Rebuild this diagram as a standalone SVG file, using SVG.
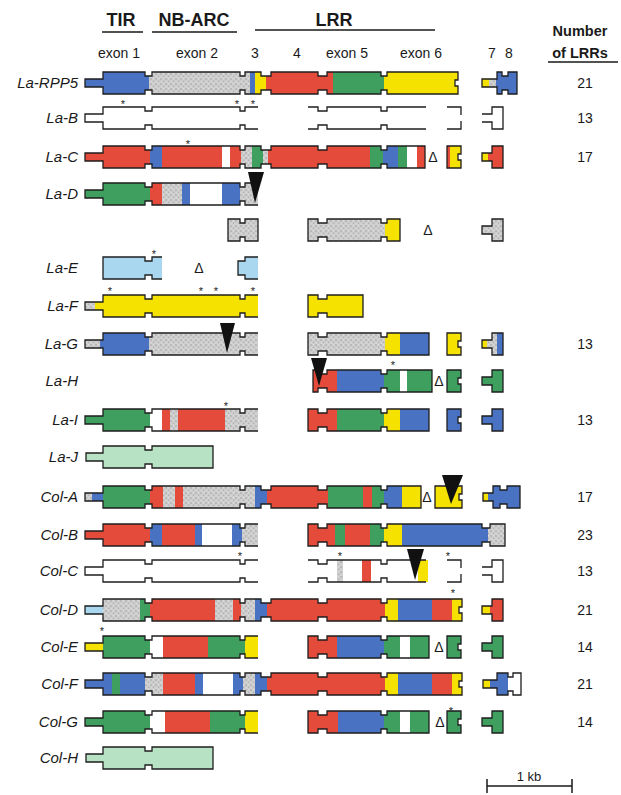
<svg xmlns="http://www.w3.org/2000/svg" width="621" height="795" viewBox="0 0 621 795">
<style>
.o{fill:none;stroke:#1e1e1e;stroke-width:1.3}
text{font-family:"Liberation Sans",Arial,sans-serif;fill:#1a1a1a}
.lb{font-style:italic;font-size:15px;text-anchor:end}
.h{font-size:14px;text-anchor:middle}
.hb{font-size:18px;font-weight:bold;text-anchor:middle}
.nb{font-size:14.5px;font-weight:bold;text-anchor:middle}
.n{font-size:14px;text-anchor:middle}
.a{font-size:11px;text-anchor:middle}
.d{font-size:14px;text-anchor:middle}
.B{fill:#4a72c2}.R{fill:#e44b3b}.G{fill:#3f9f5f}.Y{fill:#f6e200}.S{fill:url(#stip)}.LB{fill:#a9d7ef}.LG{fill:#b8e2c4}.W{fill:#fff}
.tri{fill:#111}
.ln{stroke:#1a1a1a;stroke-width:1.5;fill:none}
</style>
<defs>
<pattern id="stip" width="5" height="5" patternUnits="userSpaceOnUse"><rect width="5" height="5" fill="#cdcdcd"/><circle cx="1" cy="1" r=".7" fill="#9a9a9a"/><circle cx="3.6" cy="3.2" r=".6" fill="#a8a8a8"/><circle cx="3.5" cy=".8" r=".5" fill="#ececec"/><circle cx="1.2" cy="4" r=".5" fill="#ececec"/></pattern>
<path id="pLo" d="M258,-11H245V-7H240V-11H152V-7H145V-11H103V-4H85V4H103V11H145V7H152V11H240V7H245V11H258"/>
<path id="pR" d="M308,-11H318V-7H327V-11H381V-7H387V-11H429V11H387V7H381V11H327V7H318V11H308Z"/>
<path id="pRo" d="M308,-11H318V-7H327V-11H381V-7H387V-11H426M426,11H387V7H381V11H327V7H318V11H308"/>
<path id="pT" d="M447,-11H461V-3H458V3H461V11H447Z"/>
<path id="pTo" d="M447,-11H461V-3M461,3V11H447"/>
<path id="pE" d="M482,-4H492V-11H503V11H492V4H482Z"/>
<path id="pEo" d="M482,-4H492V-11H503V11H492V4H482"/>
<path id="pRPP" d="M85,-4H103V-11H145V-7H152V-11H240V-7H245V-11H261V-7H271V-11H318V-7H327V-11H381V-7H387V-11H458V-3H455V3H458V11H387V7H381V11H327V7H318V11H271V7H261V11H245V7H240V11H152V7H145V11H103V4H85Z"/>
<path id="pC" d="M85,-4H103V-11H145V-7H152V-11H240V-7H245V-11H261V-7H271V-11H318V-7H327V-11H381V-7H387V-11H425V11H387V7H381V11H327V7H318V11H271V7H261V11H245V7H240V11H152V7H145V11H103V4H85Z"/>
<path id="pA" d="M85,-4H103V-11H145V-7H152V-11H240V-7H245V-11H261V-7H271V-11H318V-7H327V-11H381V-7H387V-11H421V11H387V7H381V11H327V7H318V11H271V7H261V11H245V7H240V11H152V7H145V11H103V4H85Z"/>
<path id="pDF" d="M85,-4H103V-11H145V-7H152V-11H240V-7H245V-11H261V-7H271V-11H318V-7H327V-11H381V-7H387V-11H462V-3H459V3H462V11H387V7H381V11H327V7H318V11H271V7H261V11H245V7H240V11H152V7H145V11H103V4H85Z"/>
<path id="pB2" d="M308,-11H318V-7H327V-11H381V-7H387V-11H482V-7H490V-11H505V11H490V7H482V11H387V7H381V11H327V7H318V11H308Z"/>
<path id="pU1" d="M228,-11H240V-7H245V-11H258V11H245V7H240V11H228Z"/>
<path id="pU2" d="M308,-11H318V-7H327V-11H381V-7H387V-11H400V11H387V7H381V11H327V7H318V11H308Z"/>
<path id="pE1" d="M162,-11H152V-7H145V-11H103V11H145V7H152V11H162"/>
<path id="pE2" d="M258,-11H245V-7H238V7H245V11H258"/>
<path id="pF2" d="M308,-11H318V-7H327V-11H363V11H327V7H318V11H308Z"/>
<path id="pH" d="M313,-11H318V-7H327V-11H381V-7H387V-11H432V11H387V7H381V11H327V7H318V11H313Z"/>
<path id="pJ" d="M86,-4H103V-11H145V-7H152V-11H213V11H152V7H145V11H103V4H86Z"/>
<path id="pTA" d="M435,-11H462V-3H459V3H462V11H435Z"/>
<path id="pEA" d="M483,-4H493V-11H500V-7H507V-11H520V11H507V7H500V11H493V4H483Z"/>
<path id="pER" d="M482,-4H497V-11H502V-7H508V-11H517V11H508V7H502V11H497V4H482Z"/>
<path id="pEF" d="M483,-4H497V-11H508V-7H513V-11H521V11H513V7H508V11H497V4H483Z"/>
<clipPath id="cLo"><use href="#pLo"/></clipPath>
<clipPath id="cR"><use href="#pR"/></clipPath>
<clipPath id="cT"><use href="#pT"/></clipPath>
<clipPath id="cE"><use href="#pE"/></clipPath>
<clipPath id="cRPP"><use href="#pRPP"/></clipPath>
<clipPath id="cC"><use href="#pC"/></clipPath>
<clipPath id="cA"><use href="#pA"/></clipPath>
<clipPath id="cDF"><use href="#pDF"/></clipPath>
<clipPath id="cB2"><use href="#pB2"/></clipPath>
<clipPath id="cU1"><use href="#pU1"/></clipPath>
<clipPath id="cU2"><use href="#pU2"/></clipPath>
<clipPath id="cE1"><use href="#pE1"/></clipPath>
<clipPath id="cE2"><use href="#pE2"/></clipPath>
<clipPath id="cF2"><use href="#pF2"/></clipPath>
<clipPath id="cH"><use href="#pH"/></clipPath>
<clipPath id="cTA"><use href="#pTA"/></clipPath>
<clipPath id="cEA"><use href="#pEA"/></clipPath>
<clipPath id="cER"><use href="#pER"/></clipPath>
<clipPath id="cEF"><use href="#pEF"/></clipPath>
</defs>
<rect width="621" height="795" fill="#fff"/>

<g id="header">
<text class="hb" x="121" y="26">TIR</text>
<text class="hb" x="194" y="26">NB-ARC</text>
<text class="hb" x="334" y="26">LRR</text>
<path class="ln" d="M102,32H143M152,32H237M255,30H435M548,62H618"/>
<text class="h" x="119" y="58">exon 1</text>
<text class="h" x="197" y="58">exon 2</text>
<text class="h" x="255" y="58">3</text>
<text class="h" x="297" y="58">4</text>
<text class="h" x="347" y="58">exon 5</text>
<text class="h" x="421" y="58">exon 6</text>
<text class="h" x="492" y="58">7</text>
<text class="h" x="509" y="58">8</text>
<text class="nb" x="580" y="36">Number</text>
<text class="nb" x="580" y="58">of LRRs</text>
</g>

<g id="la-rpp5" transform="translate(0,83)">
<g clip-path="url(#cRPP)"><rect class="B" x="84" y="-12" width="65" height="24"/><rect class="S" x="149" y="-12" width="101" height="24"/><rect class="B" x="250" y="-12" width="5" height="24"/><rect class="Y" x="255" y="-12" width="11" height="24"/><rect class="R" x="266" y="-12" width="67" height="24"/><rect class="G" x="333" y="-12" width="51" height="24"/><rect class="Y" x="384" y="-12" width="76" height="24"/></g>
<use href="#pRPP" class="o"/>
<g clip-path="url(#cER)"><rect class="Y" x="481" y="-12" width="8" height="24"/><rect class="S" x="489" y="-12" width="7" height="24"/><rect class="B" x="496" y="-12" width="23" height="24"/></g>
<use href="#pER" class="o"/>
<text class="lb" x="78" y="5">La-RPP5</text>
<text class="n" x="585" y="5">21</text>
</g>

<g id="la-b" transform="translate(0,118)">
<use href="#pLo" class="o"/>
<use href="#pRo" class="o"/>
<use href="#pTo" class="o"/>
<use href="#pEo" class="o"/>
<text class="a" x="123" y="-10">*</text><text class="a" x="237" y="-10">*</text><text class="a" x="253" y="-10">*</text>
<text class="lb" x="78" y="5">La-B</text>
<text class="n" x="585" y="5">13</text>
</g>

<g id="la-c" transform="translate(0,157)">
<g clip-path="url(#cC)"><rect class="R" x="84" y="-12" width="66" height="24"/><rect class="B" x="150" y="-12" width="12" height="24"/><rect class="R" x="162" y="-12" width="60" height="24"/><rect class="W" x="222" y="-12" width="8" height="24"/><rect class="R" x="230" y="-12" width="11" height="24"/><rect class="S" x="241" y="-12" width="11" height="24"/><rect class="G" x="252" y="-12" width="11" height="24"/><rect class="S" x="263" y="-12" width="5" height="24"/><rect class="R" x="268" y="-12" width="102" height="24"/><rect class="G" x="370" y="-12" width="13" height="24"/><rect class="B" x="383" y="-12" width="15" height="24"/><rect class="G" x="398" y="-12" width="9" height="24"/><rect class="W" x="407" y="-12" width="10" height="24"/><rect class="R" x="417" y="-12" width="9" height="24"/></g>
<use href="#pC" class="o"/>
<g clip-path="url(#cT)"><rect class="R" x="446" y="-12" width="4" height="24"/><rect class="Y" x="450" y="-12" width="12" height="24"/></g>
<use href="#pT" class="o"/>
<g clip-path="url(#cE)"><rect class="Y" x="481" y="-12" width="7" height="24"/><rect class="R" x="488" y="-12" width="16" height="24"/></g>
<use href="#pE" class="o"/>
<text class="a" x="188" y="-9">*</text>
<text class="d" x="433" y="5">Δ</text>
<text class="lb" x="78" y="5">La-C</text>
<text class="n" x="585" y="5">17</text>
</g>

<g id="la-d" transform="translate(0,194)">
<g clip-path="url(#cLo)"><rect class="G" x="84" y="-12" width="66" height="24"/><rect class="R" x="150" y="-12" width="12" height="24"/><rect class="S" x="162" y="-12" width="20" height="24"/><rect class="B" x="182" y="-12" width="8" height="24"/><rect class="W" x="190" y="-12" width="32" height="24"/><rect class="B" x="222" y="-12" width="18" height="24"/><rect class="S" x="240" y="-12" width="19" height="24"/></g>
<use href="#pLo" class="o"/>
<polygon class="tri" points="248,-22 264,-22 255,9"/>
<text class="lb" x="78" y="5">La-D</text>
</g>

<g id="fragment" transform="translate(0,230)">
<g clip-path="url(#cU1)"><rect class="S" x="227" y="-12" width="32" height="24"/></g>
<use href="#pU1" class="o"/>
<g clip-path="url(#cU2)"><rect class="S" x="307" y="-12" width="78" height="24"/><rect class="Y" x="385" y="-12" width="16" height="24"/></g>
<use href="#pU2" class="o"/>
<g clip-path="url(#cE)"><rect class="S" x="481" y="-12" width="23" height="24"/></g>
<use href="#pE" class="o"/>
<text class="d" x="428" y="5">Δ</text>
</g>

<g id="la-e" transform="translate(0,268)">
<g clip-path="url(#cE1)"><rect class="LB" x="102" y="-12" width="61" height="24"/></g>
<use href="#pE1" class="o"/>
<g clip-path="url(#cE2)"><rect class="LB" x="237" y="-12" width="22" height="24"/></g>
<use href="#pE2" class="o"/>
<text class="a" x="154" y="-10">*</text>
<text class="d" x="199" y="5">Δ</text>
<text class="lb" x="78" y="5">La-E</text>
</g>

<g id="la-f" transform="translate(0,306)">
<g clip-path="url(#cLo)"><rect class="S" x="84" y="-12" width="11" height="24"/><rect class="Y" x="95" y="-12" width="164" height="24"/></g>
<use href="#pLo" class="o"/>
<g clip-path="url(#cF2)"><rect class="Y" x="307" y="-12" width="57" height="24"/></g>
<use href="#pF2" class="o"/>
<text class="a" x="110" y="-11">*</text><text class="a" x="201" y="-11">*</text><text class="a" x="216" y="-11">*</text><text class="a" x="253" y="-11">*</text>
<text class="lb" x="78" y="5">La-F</text>
</g>

<g id="la-g" transform="translate(0,344)">
<g clip-path="url(#cLo)"><rect class="S" x="84" y="-12" width="16" height="24"/><rect class="B" x="100" y="-12" width="49" height="24"/><rect class="S" x="149" y="-12" width="110" height="24"/></g>
<use href="#pLo" class="o"/>
<polygon class="tri" points="220,-21 235,-21 227,9"/>
<g clip-path="url(#cR)"><rect class="S" x="307" y="-12" width="78" height="24"/><rect class="Y" x="385" y="-12" width="15" height="24"/><rect class="B" x="400" y="-12" width="30" height="24"/></g>
<use href="#pR" class="o"/>
<g clip-path="url(#cT)"><rect class="Y" x="446" y="-12" width="16" height="24"/></g>
<use href="#pT" class="o"/>
<g clip-path="url(#cE)"><rect class="Y" x="481" y="-12" width="6" height="24"/><rect class="S" x="487" y="-12" width="10" height="24"/><rect class="B" x="497" y="-12" width="7" height="24"/></g>
<use href="#pE" class="o"/>
<text class="lb" x="78" y="5">La-G</text>
<text class="n" x="585" y="5">13</text>
</g>

<g id="la-h" transform="translate(0,381)">
<g clip-path="url(#cH)"><rect class="R" x="312" y="-12" width="25" height="24"/><rect class="B" x="337" y="-12" width="47" height="24"/><rect class="G" x="384" y="-12" width="16" height="24"/><rect class="W" x="400" y="-12" width="7" height="24"/><rect class="G" x="407" y="-12" width="26" height="24"/></g>
<use href="#pH" class="o"/>
<polygon class="tri" points="311,-23 327,-23 319,5"/>
<g clip-path="url(#cT)"><rect class="G" x="446" y="-12" width="16" height="24"/></g>
<use href="#pT" class="o"/>
<g clip-path="url(#cE)"><rect class="G" x="481" y="-12" width="23" height="24"/></g>
<use href="#pE" class="o"/>
<text class="a" x="393" y="-12">*</text>
<text class="d" x="439" y="5">Δ</text>
<text class="lb" x="78" y="5">La-H</text>
</g>

<g id="la-i" transform="translate(0,420)">
<g clip-path="url(#cLo)"><rect class="G" x="84" y="-12" width="66" height="24"/><rect class="W" x="150" y="-12" width="12" height="24"/><rect class="R" x="162" y="-12" width="8" height="24"/><rect class="S" x="170" y="-12" width="8" height="24"/><rect class="R" x="178" y="-12" width="47" height="24"/><rect class="S" x="225" y="-12" width="34" height="24"/></g>
<use href="#pLo" class="o"/>
<g clip-path="url(#cR)"><rect class="R" x="307" y="-12" width="30" height="24"/><rect class="G" x="337" y="-12" width="47" height="24"/><rect class="Y" x="384" y="-12" width="16" height="24"/><rect class="B" x="400" y="-12" width="30" height="24"/></g>
<use href="#pR" class="o"/>
<g clip-path="url(#cT)"><rect class="B" x="446" y="-12" width="16" height="24"/></g>
<use href="#pT" class="o"/>
<g clip-path="url(#cE)"><rect class="B" x="481" y="-12" width="23" height="24"/></g>
<use href="#pE" class="o"/>
<text class="a" x="226" y="-10">*</text>
<text class="lb" x="78" y="5">La-I</text>
<text class="n" x="585" y="5">13</text>
</g>

<g id="la-j" transform="translate(0,457)">
<use href="#pJ" class="o" style="fill:#b8e2c4"/>
<text class="lb" x="78" y="5">La-J</text>
</g>

<g id="col-a" transform="translate(0,497)">
<g clip-path="url(#cA)"><rect class="S" x="84" y="-12" width="8" height="24"/><rect class="B" x="92" y="-12" width="11" height="24"/><rect class="G" x="103" y="-12" width="47" height="24"/><rect class="R" x="150" y="-12" width="13" height="24"/><rect class="S" x="163" y="-12" width="12" height="24"/><rect class="R" x="175" y="-12" width="8" height="24"/><rect class="S" x="183" y="-12" width="72" height="24"/><rect class="B" x="255" y="-12" width="12" height="24"/><rect class="R" x="267" y="-12" width="61" height="24"/><rect class="G" x="328" y="-12" width="35" height="24"/><rect class="R" x="363" y="-12" width="9" height="24"/><rect class="G" x="372" y="-12" width="12" height="24"/><rect class="B" x="384" y="-12" width="18" height="24"/><rect class="Y" x="402" y="-12" width="19" height="24"/></g>
<use href="#pA" class="o"/>
<g clip-path="url(#cTA)"><rect class="Y" x="434" y="-12" width="29" height="24"/></g>
<use href="#pTA" class="o"/>
<polygon class="tri" points="442,-22 463,-22 451,7"/>
<g clip-path="url(#cEA)"><rect class="Y" x="482" y="-12" width="6" height="24"/><rect class="B" x="488" y="-12" width="33" height="24"/></g>
<use href="#pEA" class="o"/>
<text class="d" x="427" y="5">Δ</text>
<text class="lb" x="78" y="5">Col-A</text>
<text class="n" x="585" y="5">17</text>
</g>

<g id="col-b" transform="translate(0,535)">
<g clip-path="url(#cLo)"><rect class="R" x="84" y="-12" width="66" height="24"/><rect class="B" x="150" y="-12" width="12" height="24"/><rect class="R" x="162" y="-12" width="33" height="24"/><rect class="B" x="195" y="-12" width="7" height="24"/><rect class="W" x="202" y="-12" width="30" height="24"/><rect class="B" x="232" y="-12" width="10" height="24"/><rect class="S" x="242" y="-12" width="17" height="24"/></g>
<use href="#pLo" class="o"/>
<g clip-path="url(#cB2)"><rect class="R" x="307" y="-12" width="28" height="24"/><rect class="G" x="335" y="-12" width="10" height="24"/><rect class="R" x="345" y="-12" width="25" height="24"/><rect class="G" x="370" y="-12" width="14" height="24"/><rect class="Y" x="384" y="-12" width="18" height="24"/><rect class="B" x="402" y="-12" width="86" height="24"/><rect class="S" x="488" y="-12" width="18" height="24"/></g>
<use href="#pB2" class="o"/>
<text class="lb" x="78" y="5">Col-B</text>
<text class="n" x="585" y="5">23</text>
</g>

<g id="col-c" transform="translate(0,571)">
<use href="#pLo" class="o"/>
<g clip-path="url(#cR)"><rect class="S" x="337" y="-12" width="6" height="24"/><rect class="R" x="362" y="-12" width="9" height="24"/><rect class="Y" x="418" y="-12" width="10" height="24"/></g>
<use href="#pRo" class="o"/>
<polygon class="tri" points="407,-22 424,-22 415,9"/>
<use href="#pTo" class="o"/>
<use href="#pEo" class="o"/>
<text class="a" x="240" y="-11">*</text><text class="a" x="340" y="-11">*</text><text class="a" x="448" y="-11">*</text>
<text class="lb" x="78" y="5">Col-C</text>
<text class="n" x="585" y="5">13</text>
</g>

<g id="col-d" transform="translate(0,610)">
<g clip-path="url(#cDF)"><rect class="LB" x="84" y="-12" width="19" height="24"/><rect class="S" x="103" y="-12" width="37" height="24"/><rect class="G" x="140" y="-12" width="10" height="24"/><rect class="R" x="150" y="-12" width="65" height="24"/><rect class="S" x="215" y="-12" width="18" height="24"/><rect class="R" x="233" y="-12" width="8" height="24"/><rect class="S" x="241" y="-12" width="14" height="24"/><rect class="B" x="255" y="-12" width="12" height="24"/><rect class="R" x="267" y="-12" width="118" height="24"/><rect class="Y" x="385" y="-12" width="13" height="24"/><rect class="B" x="398" y="-12" width="34" height="24"/><rect class="R" x="432" y="-12" width="20" height="24"/><rect class="Y" x="452" y="-12" width="11" height="24"/></g>
<use href="#pDF" class="o"/>
<g clip-path="url(#cE)"><rect class="Y" x="481" y="-12" width="9" height="24"/><rect class="R" x="490" y="-12" width="14" height="24"/></g>
<use href="#pE" class="o"/>
<text class="a" x="453" y="-13">*</text>
<text class="lb" x="78" y="5">Col-D</text>
<text class="n" x="585" y="5">21</text>
</g>

<g id="col-e" transform="translate(0,647)">
<g clip-path="url(#cLo)"><rect class="Y" x="84" y="-12" width="19" height="24"/><rect class="G" x="103" y="-12" width="47" height="24"/><rect class="W" x="150" y="-12" width="13" height="24"/><rect class="R" x="163" y="-12" width="45" height="24"/><rect class="G" x="208" y="-12" width="37" height="24"/><rect class="Y" x="245" y="-12" width="14" height="24"/></g>
<use href="#pLo" class="o"/>
<g clip-path="url(#cR)"><rect class="R" x="307" y="-12" width="30" height="24"/><rect class="B" x="337" y="-12" width="47" height="24"/><rect class="G" x="384" y="-12" width="16" height="24"/><rect class="W" x="400" y="-12" width="10" height="24"/><rect class="G" x="410" y="-12" width="20" height="24"/></g>
<use href="#pR" class="o"/>
<g clip-path="url(#cT)"><rect class="G" x="446" y="-12" width="16" height="24"/></g>
<use href="#pT" class="o"/>
<g clip-path="url(#cE)"><rect class="G" x="481" y="-12" width="23" height="24"/></g>
<use href="#pE" class="o"/>
<text class="a" x="102" y="-12">*</text>
<text class="d" x="439" y="5">Δ</text>
<text class="lb" x="78" y="5">Col-E</text>
<text class="n" x="585" y="5">14</text>
</g>

<g id="col-f" transform="translate(0,684)">
<g clip-path="url(#cDF)"><rect class="B" x="84" y="-12" width="28" height="24"/><rect class="G" x="112" y="-12" width="8" height="24"/><rect class="B" x="120" y="-12" width="25" height="24"/><rect class="S" x="145" y="-12" width="18" height="24"/><rect class="R" x="163" y="-12" width="32" height="24"/><rect class="B" x="195" y="-12" width="8" height="24"/><rect class="W" x="203" y="-12" width="30" height="24"/><rect class="B" x="233" y="-12" width="10" height="24"/><rect class="S" x="243" y="-12" width="12" height="24"/><rect class="B" x="255" y="-12" width="12" height="24"/><rect class="R" x="267" y="-12" width="118" height="24"/><rect class="Y" x="385" y="-12" width="13" height="24"/><rect class="B" x="398" y="-12" width="34" height="24"/><rect class="R" x="432" y="-12" width="20" height="24"/><rect class="Y" x="452" y="-12" width="11" height="24"/></g>
<use href="#pDF" class="o"/>
<g clip-path="url(#cEF)"><rect class="Y" x="482" y="-12" width="8" height="24"/><rect class="B" x="490" y="-12" width="18" height="24"/><rect class="W" x="508" y="-12" width="14" height="24"/></g>
<use href="#pEF" class="o"/>
<text class="lb" x="78" y="5">Col-F</text>
<text class="n" x="585" y="5">21</text>
</g>

<g id="col-g" transform="translate(0,722)">
<g clip-path="url(#cLo)"><rect class="G" x="84" y="-12" width="66" height="24"/><rect class="W" x="150" y="-12" width="15" height="24"/><rect class="R" x="165" y="-12" width="45" height="24"/><rect class="G" x="210" y="-12" width="35" height="24"/><rect class="Y" x="245" y="-12" width="14" height="24"/></g>
<use href="#pLo" class="o"/>
<g clip-path="url(#cR)"><rect class="R" x="307" y="-12" width="31" height="24"/><rect class="B" x="338" y="-12" width="46" height="24"/><rect class="G" x="384" y="-12" width="16" height="24"/><rect class="W" x="400" y="-12" width="10" height="24"/><rect class="G" x="410" y="-12" width="20" height="24"/></g>
<use href="#pR" class="o"/>
<g clip-path="url(#cT)"><rect class="G" x="446" y="-12" width="16" height="24"/></g>
<use href="#pT" class="o"/>
<g clip-path="url(#cE)"><rect class="G" x="481" y="-12" width="23" height="24"/></g>
<use href="#pE" class="o"/>
<text class="a" x="451" y="-7">*</text>
<text class="d" x="440" y="5">Δ</text>
<text class="lb" x="78" y="5">Col-G</text>
<text class="n" x="585" y="5">14</text>
</g>

<g id="col-h" transform="translate(0,758)">
<use href="#pJ" class="o" style="fill:#b8e2c4"/>
<text class="lb" x="78" y="5">Col-H</text>
</g>

<g id="scale-bar">
<path class="ln" d="M487,786H572M487,779V793M572,779V793"/>
<text class="h" x="529" y="781" style="font-size:13px">1 kb</text>
</g>
</svg>
